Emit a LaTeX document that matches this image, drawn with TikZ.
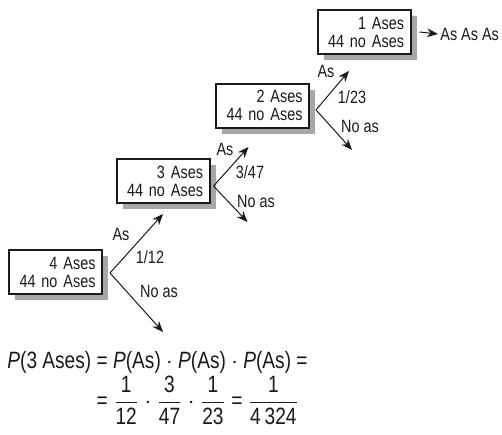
\documentclass[tikz,border=0pt]{standalone}
\usepackage{amsmath}
\usepackage{fontspec}
\setmainfont{Liberation Sans}[FakeStretch=0.81]
\usetikzlibrary{arrows.meta, positioning, shadows}
\definecolor{asShadow}{HTML}{a7a7a9}
\definecolor{asInk}{HTML}{1a1a1a}

\begin{document}
\begin{tikzpicture}[x=0.5pt, y=-0.5pt, font=\fontsize{8.9}{9}\selectfont, text=asInk,
        box/.style={draw=asInk, line width=1pt, fill=white, align=right, text width=40pt, inner xsep=3.25pt, minimum height=22pt,
            drop shadow={shadow xshift=3pt, shadow yshift=-3pt, fill=asShadow, opacity=1}},
        br/.style={-{Stealth[length=5.5pt, width=4.4pt]}, asInk, line width=0.5pt},
        lbl/.style={inner sep=0pt}]
        \useasboundingbox (0,0) rectangle (502,434);
        % boxes
        \node[box] (b4) at (55.5,272) {4 Ases\\44 no Ases};
        \node[box] (b3) at (163,181) {3 Ases\\44 no Ases};
        \node[box] (b2) at (262.5,105.5) {2 Ases\\44 no Ases};
        \node[box] (b1) at (364,32) {1 Ases\\44 no Ases};
        % branch points
        \coordinate[right=3.5pt of b4, yshift=-0.5pt] (v4);
        \coordinate[right=1.5pt of b3, yshift=-2.5pt] (v3);
        \coordinate[right=3pt of b2, yshift=-2.2pt] (v2);
        \path (v4) ++(53,-59) coordinate (u4);
        \path (v4) ++(53,59) coordinate (d4);
        \path (v3) ++(35,-39) coordinate (u3);
        \path (v3) ++(34,36) coordinate (d3);
        \path (v2) ++(33,-39) coordinate (u2);
        \path (v2) ++(36,40) coordinate (d2);
        \draw[br] (v4) -- (u4);
        \draw[br] (v4) -- (d4);
        \draw[br] (v3) -- (u3);
        \draw[br] (v3) -- (d3);
        \draw[br] (v2) -- (u2);
        \draw[br] (v2) -- (d2);
        \node[lbl] (a4) at (121,234) {As};
        \node[lbl] (p4) at (150,257) {1/12};
        \node[lbl] (n4) at (159,291) {No as};
        \node[lbl] (a3) at (225,149) {As};
        \node[lbl] (p3) at (250,172) {3/47};
        \node[lbl] (n3) at (256,201) {No as};
        \node[lbl] (a2) at (326,71) {As};
        \node[lbl] (p2) at (352,97) {1/23};
        \node[lbl] (n2) at (360,126) {No as};
        % result
        \node[lbl, anchor=west] (res) at (440,34) {As As As};
        \draw[br] ([xshift=4pt]b1.east) -- ([xshift=-1pt]res.west);
        % formula
        \node[anchor=north west, inner sep=0pt, font=\fontsize{11.8}{12}\selectfont] (f) at (7,351)
            {$\begin{array}{@{}r@{}l@{}}
              \textit{P}\text{(3 Ases)} & \text{ = }\textit{P}\text{(As)}\cdot\textit{P}\text{(As)}\cdot\textit{P}\text{(As)}\text{ =} \\[0pt]
              & \text{ = }\dfrac{\text{1}}{\text{12}}\cdot\dfrac{\text{3}}{\text{47}}\cdot\dfrac{\text{1}}{\text{23}}\text{ = }\dfrac{\text{1}}{\text{4\,324}}
            \end{array}$};
\end{tikzpicture}
\end{document}
